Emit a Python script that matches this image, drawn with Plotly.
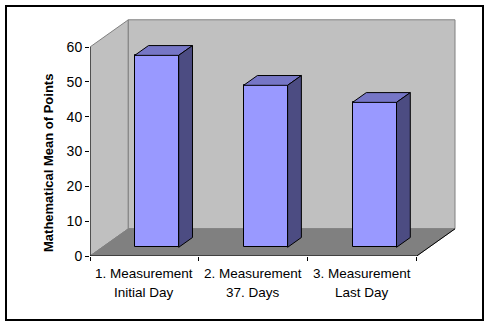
import plotly.graph_objects as go

# ---- data ----
categories_line1 = ["1. Measurement", "2. Measurement", "3. Measurement"]
categories_line2 = ["Initial Day", "37. Days", "Last Day"]
values = [55.1, 46.5, 41.6]
y_ticks = [0, 10, 20, 30, 40, 50, 60]
y_title = "Mathematical Mean of Points"

# ---- geometry (axis units) ----
W, H = 490, 327
ML, MR, MT, MB = 90, 20, 15, 71
PW, PH = W - ML - MR, H - MT - MB
NCAT = len(values)
YMAX = 60
PX_PER_X = 326.7 / NCAT
PX_PER_Y = 209.0 / YMAX
XR = PW / PX_PER_X
YR = PH / PX_PER_Y
DX = 38.3 / PX_PER_X      # depth offset in x units
DY = 27.2 / PX_PER_Y      # depth offset in y units
F0, F1 = 0.32, 0.68       # bar front/back depth fraction
HALF = 0.202              # bar half width

FRONT = "#9999FF"
TOP = "#7676C6"
SIDE = "#4C4C82"
WALL = "#C0C0C0"
FLOOR = "#808080"
FONT = "Liberation Sans, Arial"

def px2paper_x(px):
    return (px - ML) / PW

def px2paper_y(py):
    return (H - MB - py) / PH

def path(pts):
    return "M " + " L ".join(f"{x},{y}" for x, y in pts) + " Z"

shapes = []
# left wall
shapes.append(dict(type="path", xref="x", yref="y", layer="below",
                   path=path([(0, 0), (DX, DY), (DX, YMAX + DY), (0, YMAX)]),
                   fillcolor=WALL, line=dict(color="#808080", width=1)))
# back wall
shapes.append(dict(type="path", xref="x", yref="y", layer="below",
                   path=path([(DX, DY), (NCAT + DX, DY), (NCAT + DX, YMAX + DY), (DX, YMAX + DY)]),
                   fillcolor=WALL, line=dict(color="#808080", width=1)))
# floor
shapes.append(dict(type="path", xref="x", yref="y", layer="below",
                   path=path([(0, 0), (NCAT, 0), (NCAT + DX, DY), (DX, DY)]),
                   fillcolor=FLOOR, line=dict(color=FLOOR, width=1)))
# axis lines
shapes.append(dict(type="line", xref="x", yref="y", x0=0, y0=0, x1=0, y1=YMAX,
                   line=dict(color="black", width=1)))
shapes.append(dict(type="line", xref="x", yref="y", x0=0, y0=0, x1=NCAT, y1=0,
                   line=dict(color="black", width=1)))
shapes.append(dict(type="line", xref="x", yref="y", x0=NCAT, y0=0, x1=NCAT + DX, y1=DY,
                   line=dict(color="black", width=1)))
# outer border
shapes.append(dict(type="rect", xref="paper", yref="paper",
                   x0=px2paper_x(6), x1=px2paper_x(483), y0=px2paper_y(320), y1=px2paper_y(6),
                   line=dict(color="black", width=2), fillcolor="rgba(0,0,0,0)"))

fig = go.Figure()

centers = [i + 0.5 + F0 * DX for i in range(NCAT)]
fig.add_trace(go.Bar(x=centers, y=values, base=[F0 * DY] * NCAT, width=[2 * HALF] * NCAT,
                     marker=dict(color=FRONT, line=dict(color="black", width=1)),
                     hoverinfo="skip", showlegend=False))

ddx = (F1 - F0) * DX
ddy = (F1 - F0) * DY
for i, v in enumerate(values):
    xl = i + 0.5 - HALF + F0 * DX
    xr = i + 0.5 + HALF + F0 * DX
    yb = F0 * DY
    yt = v + F0 * DY
    # top face
    fig.add_trace(go.Scatter(x=[xl, xr, xr + ddx, xl + ddx, xl],
                             y=[yt, yt, yt + ddy, yt + ddy, yt],
                             mode="lines", fill="toself", fillcolor=TOP,
                             line=dict(color="black", width=1),
                             hoverinfo="skip", showlegend=False))
    # side face
    fig.add_trace(go.Scatter(x=[xr, xr + ddx, xr + ddx, xr, xr],
                             y=[yb, yb + ddy, yt + ddy, yt, yb],
                             mode="lines", fill="toself", fillcolor=SIDE,
                             line=dict(color="black", width=1),
                             hoverinfo="skip", showlegend=False))

annotations = []
for i in range(NCAT):
    annotations.append(dict(x=i + 0.5, xref="x", y=px2paper_y(273), yref="paper",
                            text=categories_line1[i], showarrow=False,
                            xanchor="center", yanchor="middle",
                            font=dict(family=FONT, size=13.5, color="black")))
    annotations.append(dict(x=i + 0.5, xref="x", y=px2paper_y(292), yref="paper",
                            text=categories_line2[i], showarrow=False,
                            xanchor="center", yanchor="middle",
                            font=dict(family=FONT, size=13.5, color="black")))
annotations.append(dict(x=px2paper_x(48), xref="paper", y=px2paper_y(163), yref="paper",
                        text=f"<b>{y_title}</b>", textangle=-90, showarrow=False,
                        xanchor="center", yanchor="middle",
                        font=dict(family=FONT, size=13, color="black")))

fig.update_layout(
    width=W, height=H,
    margin=dict(l=ML, r=MR, t=MT, b=MB, pad=0),
    paper_bgcolor="white", plot_bgcolor="white",
    shapes=shapes, annotations=annotations,
    bargap=0,
    xaxis=dict(range=[0, XR], showgrid=False, zeroline=False, showline=False,
               tickvals=list(range(NCAT + 1)), ticktext=[""] * (NCAT + 1),
               ticks="outside", ticklen=4, tickcolor="black", fixedrange=True),
    yaxis=dict(range=[0, YR], showgrid=False, zeroline=False, showline=False,
               tickvals=y_ticks, ticktext=[str(t) for t in y_ticks],
               ticks="outside", ticklen=4, tickcolor="black",
               tickfont=dict(family=FONT, size=14, color="black"),
               fixedrange=True),
)

fig.write_html("out.html")
